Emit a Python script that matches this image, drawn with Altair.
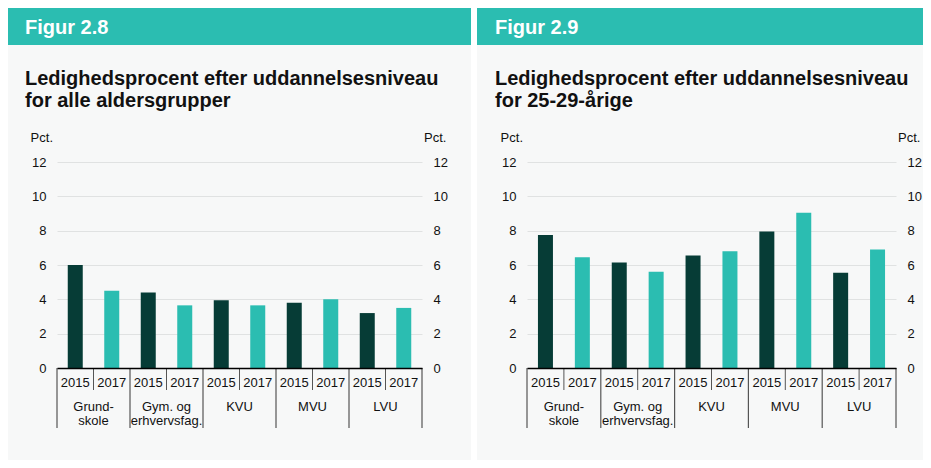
import altair as alt
import pandas as pd

# ---- data ----
groups = ["Grundskole", "Gym. og erhvervsfag.", "KVU", "MVU", "LVU"]
group_text = ["Grund-\nskole", "Gym. og\nerhvervsfag.", "KVU", "MVU", "LVU"]
years = ["2015", "2017"]
all_2015 = [6.0, 4.4, 3.95, 3.8, 3.2]
all_2017 = [4.5, 3.65, 3.65, 4.0, 3.5]
young_2015 = [7.75, 6.15, 6.55, 7.95, 5.55]
young_2017 = [6.45, 5.6, 6.8, 9.05, 6.9]
y_ticks = [0, 2, 4, 6, 8, 10, 12]

fig_left = "Figur 2.8"
fig_right = "Figur 2.9"
title_line1 = "Ledighedsprocent efter uddannelsesniveau"
title_left2 = "for alle aldersgrupper"
title_right2 = "for 25-29-årige"
unit = "Pct."

DARK = "#063c36"
TEAL = "#2bbdb1"
BG = "#f7f8f8"
GRID = "#e0e2e2"
SEP = "#555555"
TXT = "#111111"
FONT = "Liberation Sans"
H = 206


def make_df(v15, v17):
    rows = []
    for g, lab, a, b in zip(groups, group_text, v15, v17):
        for yr, v in zip(years, (a, b)):
            rows.append({"cat": f"{g}|{yr}", "group": g, "label": lab,
                         "year": yr, "value": v})
    return pd.DataFrame(rows)


def panel(df, W, fig, line2, hdr_x, hdr_x2, gap=None):
    cats = list(df["cat"])
    xscale = alt.Scale(domain=cats, paddingInner=0, paddingOuter=0)
    yscale = alt.Scale(domain=[0, 12], nice=False)
    one = alt.Chart(pd.DataFrame({"k": [0]}))
    base = alt.Chart(df)

    layers = []
    layers.append(one.mark_rect(color=TEAL).encode(
        x=alt.value(hdr_x), x2=alt.value(hdr_x2),
        y=alt.value(-154), y2=alt.value(-117)))
    if gap is not None:
        layers.append(one.mark_rect(color="white").encode(
            x=alt.value(gap[0]), x2=alt.value(gap[1]),
            y=alt.value(-154), y2=alt.value(298)))
    layers.append(one.mark_text(text=fig, font=FONT, fontSize=20, fontWeight="bold",
                                color="white", align="left", baseline="alphabetic").encode(
        x=alt.value(-32), y=alt.value(-128)))
    layers.append(one.mark_text(text=title_line1, font=FONT, fontSize=20, fontWeight="bold",
                                color=TXT, align="left", baseline="alphabetic").encode(
        x=alt.value(-32), y=alt.value(-77)))
    layers.append(one.mark_text(text=line2, font=FONT, fontSize=20, fontWeight="bold",
                                color=TXT, align="left", baseline="alphabetic").encode(
        x=alt.value(-32), y=alt.value(-55)))
    layers.append(one.mark_text(text=unit, font=FONT, fontSize=13, color=TXT,
                                align="right", baseline="middle").encode(
        x=alt.value(-4), y=alt.value(-24)))
    layers.append(one.mark_text(text=unit, font=FONT, fontSize=13, color=TXT,
                                align="left", baseline="middle").encode(
        x=alt.value(W + 2), y=alt.value(-24)))

    xaxis = alt.Axis(labelExpr="split(datum.label, '|')[1]", labelAngle=0,
                     ticks=False, domain=True, domainColor="#000000",
                     domainWidth=1.5, labelPadding=8, labelFontSize=13,
                     labelColor=TXT, grid=False, zindex=1, orient="bottom", title=None)

    bars = base.mark_bar(width=15).encode(
        x=alt.X("cat:N", scale=xscale, title=None, axis=xaxis),
        y=alt.Y("value:Q", scale=yscale, title=None,
                axis=alt.Axis(orient="left", values=y_ticks, grid=True, gridColor=GRID,
                              gridWidth=1, domain=False, ticks=False, labelPadding=11,
                              labelFontSize=13, labelColor=TXT)),
        color=alt.Color("year:N", scale=alt.Scale(domain=years, range=[DARK, TEAL]),
                        legend=None),
    )
    bars_r = base.mark_bar(width=15, opacity=0).encode(
        x=alt.X("cat:N", scale=xscale, title=None, axis=xaxis),
        y=alt.Y("value:Q", scale=yscale, title=None,
                axis=alt.Axis(orient="right", values=y_ticks, grid=False, domain=False,
                              ticks=False, labelPadding=11, labelFontSize=13,
                              labelColor=TXT)),
    )
    sep_group = base.transform_filter("datum.year == '2015'").mark_rule(
        color=SEP, strokeWidth=1.2).encode(
        x=alt.X("cat:N", scale=xscale, title=None, axis=xaxis, bandPosition=0),
        y=alt.value(H), y2=alt.value(H + 60))
    sep_year = base.transform_filter("datum.year == '2017'").mark_rule(
        color=SEP, strokeWidth=1).encode(
        x=alt.X("cat:N", scale=xscale, title=None, axis=xaxis, bandPosition=0),
        y=alt.value(H), y2=alt.value(H + 22))
    sep_end = base.transform_filter(f"datum.cat == '{cats[-1]}'").mark_rule(
        color=SEP, strokeWidth=1.2).encode(
        x=alt.X("cat:N", scale=xscale, title=None, axis=xaxis, bandPosition=1),
        y=alt.value(H), y2=alt.value(H + 60))
    glabels = base.transform_filter("datum.year == '2017'").mark_text(
        font=FONT, fontSize=13, color=TXT, align="center", baseline="top",
        lineBreak="\n", lineHeight=14).encode(
        x=alt.X("cat:N", scale=xscale, title=None, axis=xaxis, bandPosition=0),
        y=alt.value(H + 33),
        text="label:N")

    layers += [bars, bars_r, sep_group, sep_year, sep_end, glabels]
    return alt.layer(*layers).resolve_axis(y="independent").properties(width=W, height=H)


left = panel(make_df(all_2015, all_2017), 365, fig_left, title_left2, -49, 414, gap=(414, 420))
right = panel(make_df(young_2015, young_2017), 369, fig_right, title_right2, -50, 396)

chart = alt.hconcat(left, right, spacing=105, bounds="flush").properties(
    padding=0, background=BG
).configure(font=FONT).configure_view(stroke=None)

chart.save("out.html", embed_options={"renderer": "svg", "actions": False})
